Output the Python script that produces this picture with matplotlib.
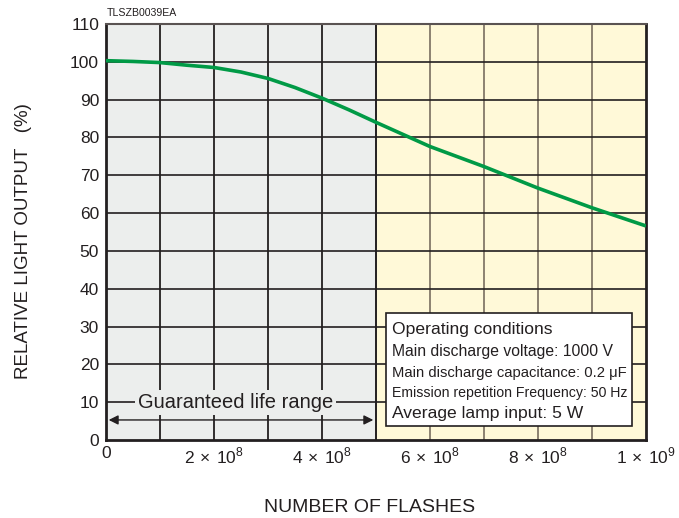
import matplotlib
matplotlib.use("Agg")
import matplotlib.pyplot as plt
import numpy as np

plt.rcParams['font.family'] = ['Liberation Sans', 'DejaVu Sans']
plt.rcParams['mathtext.fontset'] = 'custom'
plt.rcParams['mathtext.rm'] = 'Liberation Sans'

# curve (flashes, relative output %)
flashes = np.array([0, 0.5, 1, 1.5, 2, 2.5, 3, 3.5, 4, 4.5, 5, 6, 7, 8, 9, 10]) * 1e8
output = [100.3, 100.1, 99.8, 99.1, 98.5, 97.3, 95.6, 93.2, 90.4, 87.3, 84.0,
          77.6, 72.3, 66.6, 61.4, 56.6]

guaranteed_end = 5e8
x_ticks = [0, 2e8, 4e8, 6e8, 8e8, 1e9]
x_ticklabels = ['0', r'$2\,\times\,10^8$', r'$4\,\times\,10^8$', r'$6\,\times\,10^8$',
                r'$8\,\times\,10^8$', r'$1\,\times\,10^9$']
y_ticks = list(range(0, 111, 10))
conditions = ['Operating conditions',
              'Main discharge voltage: 1000 V',
              'Main discharge capacitance: 0.2 μF',
              'Emission repetition Frequency: 50 Hz',
              'Average lamp input: 5 W']

dark = '#231f20'
green = '#009a46'

fig = plt.figure(figsize=(6.79, 5.18), dpi=100)
ax = fig.add_axes([106/679, 78/518, 540/679, 416/518])
ax.set_xlim(0, 1e9)
ax.set_ylim(0, 110)

# background regions
ax.axvspan(0, guaranteed_end, color='#eceeed', zorder=0, lw=0)
ax.axvspan(guaranteed_end, 1e9, color='#fff9d8', zorder=0, lw=0)

# grid
for gx in np.arange(1e8, 1e9, 1e8):
    c = dark if gx <= guaranteed_end else '#8c8271'
    ax.axvline(gx, color=c, lw=1.3 if gx < guaranteed_end else 1.4, zorder=1)
for gy in y_ticks[1:-1]:
    ax.axhline(gy, color=dark, lw=1.2, zorder=1)

ax.plot(flashes, output, color=green, lw=2.6, zorder=4, solid_capstyle='butt')

ax.set_xticks(x_ticks)
ax.set_xticklabels(x_ticklabels)
ax.set_yticks(y_ticks)
ax.tick_params(axis='x', length=0, labelsize=12.5, colors=dark, pad=4)
ax.tick_params(axis='y', length=0, labelsize=12.5, colors=dark, pad=5)

for side in ['left', 'bottom', 'right']:
    ax.spines[side].set_color(dark)
    ax.spines[side].set_linewidth(2)
ax.spines['top'].set_color('#5a5352')
ax.spines['top'].set_linewidth(1.5)

fig.text(24/679, 1 - 241/518, 'RELATIVE LIGHT OUTPUT   (%)', fontsize=13.5,
         color=dark, rotation=90, ha='center', va='center')
fig.text(370/679, 1 - 508/518, 'NUMBER OF FLASHES', fontsize=14,
         color=dark, ha='center', va='center')

fig.text(107/679, 1 - 13/518, 'TLSZB0039EA', fontsize=7.6, color=dark,
         va='center', ha='left')

# guaranteed life range annotation
ax.annotate('', xy=(0.005e9, 5.3), xytext=(guaranteed_end - 0.005e9, 5.3),
            arrowprops=dict(arrowstyle='<|-|>', color=dark, lw=1.0,
                            mutation_scale=14, shrinkA=0, shrinkB=0), zorder=5)
ax.text(2.4e8, 9.9, 'Guaranteed life range', fontsize=14.5, color=dark,
        ha='center', va='center', zorder=5,
        bbox=dict(facecolor='#eceeed', edgecolor='none', pad=2))

# operating conditions box
ax.add_patch(plt.Rectangle((5.185e8, 3.8), 4.55e8, 29.8, facecolor='white',
                           edgecolor=dark, lw=1.2, zorder=5))
line_y = [29.2, 23.3, 17.6, 12.4, 6.9]
sizes = [12.6, 11.3, 10.6, 10.2, 12.6]
for txt, yy, fs in zip(conditions, line_y, sizes):
    ax.text(5.3e8, yy, txt, fontsize=fs, color=dark,
            ha='left', va='center', zorder=6)

fig.savefig('out.png', dpi=100)
